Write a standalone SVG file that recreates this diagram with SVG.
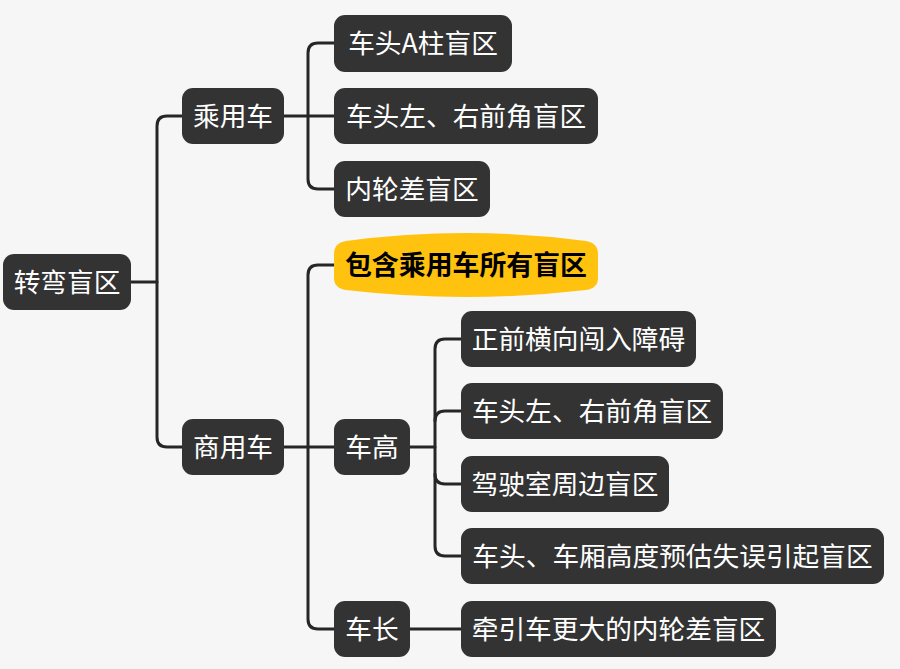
<svg xmlns="http://www.w3.org/2000/svg" width="900" height="669" viewBox="0 0 900 669">
<style>
.bg{fill:#f6f6f6}
.n rect{fill:#333333}
.n text{fill:#ffffff;font-family:"Noto Sans CJK SC","Noto Sans",sans-serif;font-size:26.7px;text-anchor:middle}
.y path{fill:#ffc20e}
.y text{fill:#000000;font-family:"Noto Sans CJK SC","Noto Sans",sans-serif;font-size:26.9px;font-weight:bold;text-anchor:middle}
.c path{fill:none;stroke:#262626;stroke-width:3;stroke-linecap:round}
</style>
<rect class="bg" x="0" y="0" width="900" height="669"/>
<g id="connectors" class="c">
<path d="M131 282 H157"/>
<path d="M182 116 H167 Q157 116 157 126 V437 Q157 447 167 447 H182"/>
<path d="M284 116 H334"/>
<path d="M334 43 H318 Q308 43 308 53 V179 Q308 189 318 189 H334"/>
<path d="M284 447 H334"/>
<path d="M334 265 H318 Q308 265 308 275 V619 Q308 629 318 629 H334"/>
<path d="M410 447 H435"/>
<path d="M461 339 H445 Q435 339 435 349 V546 Q435 556 445 556 H461"/>
<path d="M435 421 Q435 411 445 411 H461"/>
<path d="M435 474 Q435 484 445 484 H461"/>
<path d="M410 629 H461"/>
</g>
<g id="root" class="n"><rect x="3" y="254" width="128" height="56" rx="11"/><text x="67" y="291.5">转弯盲区</text></g>
<g id="passenger" class="n"><rect x="182" y="88" width="102" height="56" rx="11"/><text x="233" y="125.5">乘用车</text></g>
<g id="commercial" class="n"><rect x="182" y="419" width="102" height="56" rx="11"/><text x="233" y="456.5">商用车</text></g>
<g id="p1" class="n"><rect x="334" y="15" width="178" height="57" rx="11"/><text x="423" y="53">车头A柱盲区</text></g>
<g id="p2" class="n"><rect x="334" y="88" width="264" height="56" rx="11"/><text x="466" y="125.5">车头左、右前角盲区</text></g>
<g id="p3" class="n"><rect x="334" y="161" width="156" height="56" rx="11"/><text x="412" y="198.5">内轮差盲区</text></g>
<g id="c0" class="y"><path d="M346 241 Q466 225 586 241 Q598 243 598 254 V278 Q598 288 586 290 Q466 304 346 290 Q334 288 334 278 V254 Q334 243 346 241 Z"/><text x="466" y="275">包含乘用车所有盲区</text></g>
<g id="height" class="n"><rect x="334" y="419" width="76" height="56" rx="11"/><text x="372" y="456.5">车高</text></g>
<g id="h1" class="n"><rect x="461" y="311" width="235" height="56" rx="11"/><text x="578.5" y="348.5">正前横向闯入障碍</text></g>
<g id="h2" class="n"><rect x="461" y="383" width="262" height="56" rx="11"/><text x="592" y="420.5">车头左、右前角盲区</text></g>
<g id="h3" class="n"><rect x="461" y="456" width="208" height="56" rx="11"/><text x="565" y="493.5">驾驶室周边盲区</text></g>
<g id="h4" class="n"><rect x="461" y="528" width="423" height="56" rx="11"/><text x="672.5" y="565.5">车头、车厢高度预估失误引起盲区</text></g>
<g id="length" class="n"><rect x="334" y="601" width="76" height="56" rx="11"/><text x="372" y="638.5">车长</text></g>
<g id="l1" class="n"><rect x="461" y="601" width="315" height="56" rx="11"/><text x="618.5" y="638.5">牵引车更大的内轮差盲区</text></g>
</svg>
